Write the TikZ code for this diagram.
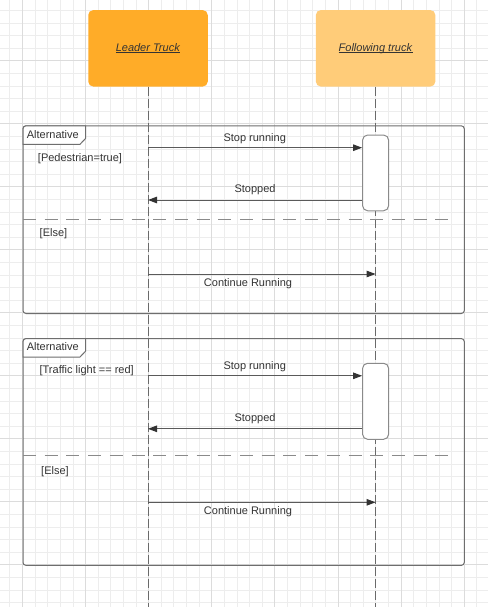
\documentclass[tikz,border=0pt]{standalone}
\usepackage{fontspec}
\setmainfont{Liberation Sans}
\usetikzlibrary{arrows.meta}
\definecolor{leaderc}{HTML}{FFAC28}
\definecolor{followc}{HTML}{FFCC79}
\definecolor{gridminor}{HTML}{EDEDED}
\definecolor{gridmajor}{HTML}{DCDCDC}
\definecolor{ink}{HTML}{333333}
\definecolor{framec}{HTML}{6E6E6E}
\definecolor{lifec}{HTML}{6A6A6A}
\definecolor{sepc}{HTML}{8A8A8A}
\definecolor{msgc}{HTML}{5A5A5A}
\definecolor{actc}{HTML}{8A8A8A}
\newcommand\myul[1]{\setbox0\hbox{#1}\rlap{\rule[-1.6pt]{\wd0}{0.7pt}}\box0}
\begin{document}
\begin{tikzpicture}[x=1pt,y=-1pt,
  font=\fontsize{11}{13}\selectfont,
  every node/.style={text=ink},
  grminor/.style={draw=gridminor,line width=0.9pt},
  grmajor/.style={draw=gridmajor,line width=0.9pt},
  actor/.style={rounded corners=5pt, minimum width=119.5pt, minimum height=76.5pt, inner sep=0pt},
  lifeline/.style={draw=lifec, line width=1pt, dash pattern=on 9pt off 3pt},
  frame/.style={draw=framec, line width=1pt, rounded corners=3pt},
  sepline/.style={draw=sepc, line width=1pt, dash pattern=on 13pt off 8.7pt},
  msg/.style={draw=msgc, line width=1pt, -{Triangle[length=9pt,width=6.5pt,color=ink]}},
  actbox/.style={draw=actc, fill=white, rounded corners=5pt, line width=1pt, minimum width=26pt, inner sep=0pt},
  lbl/.style={inner sep=0pt, anchor=center},
]
\useasboundingbox (0,0) rectangle (488,607);
\fill[white] (0,0) rectangle (488,607);
% grid
\foreach \k in {-1,...,36} {\draw[grminor] ({22.5+12.62*\k},0) -- ({22.5+12.62*\k},607);}
\foreach \k in {-4,...,43} {\draw[grminor] (0,{60.8+12.6*\k}) -- (488,{60.8+12.6*\k});}
\foreach \k in {0,5,...,35} {\draw[grmajor] ({22.5+12.62*\k},0) -- ({22.5+12.62*\k},607);}
\foreach \k in {0,5,...,40} {\draw[grmajor] (0,{60.8+12.6*\k}) -- (488,{60.8+12.6*\k});}

% actors
\node[actor, fill=leaderc] (leader) at (148,48.3) {\myul{\textit{Leader Truck}}};
\node[actor, fill=followc] (follow) at (375.6,48.3) {\myul{\textit{Following truck}}};
\coordinate (leadend) at (148,607);
\coordinate (followend) at (375.6,607);
\draw[lifeline] (leader.south) -- (leadend);
\draw[lifeline] (follow.south) -- (followend);

% frame 1
\draw[frame] (23,125.8) rectangle (464.3,313.5);
\draw[framec, line width=1pt, fill=white] (23,144.3) [rounded corners=3pt] -- (23,125.8) [sharp corners] -- (85.7,125.8) -- (85.7,138.3) -- (80,144.3) -- cycle;
\node[lbl] (tab1) at (52.8,134.2) {Alternative};
\node[lbl] (cond1) at (80,158.5) {[Pedestrian=true]};
\coordinate (sep1a) at (23,219.5);
\coordinate (sep1b) at (456,219.5);
\draw[sepline] (sep1a) -- (sep1b);
\node[lbl] (else1) at (53.5,234) {[Else]};
\node[actbox, minimum height=75.7pt] (act1) at (375.6,172.9) {};
\coordinate (m1) at (148,147.7);
\draw[msg] (m1) -- (m1 -| act1.west);
\node[lbl] (t1) at (254.7,138.3) {Stop running};
\coordinate (m2) at (148,200);
\draw[msg] (m2 -| act1.west) -- (m2);
\node[lbl] (t2) at (255,189.5) {Stopped};
\coordinate (m3) at (148,274);
\draw[msg] (m3) -- (m3 -| follow);
\node[lbl] (t3) at (248,283.5) {Continue Running};

% frame 2
\draw[frame] (23,338.6) rectangle (464.3,565.4);
\draw[framec, line width=1pt, fill=white] (23,357) [rounded corners=3pt] -- (23,338.6) [sharp corners] -- (85.7,338.6) -- (85.7,351) -- (80,357) -- cycle;
\node[lbl] (tab2) at (52.8,347) {Alternative};
\node[lbl] (cond2) at (86.7,371) {[Traffic light == red]};
\coordinate (sep2a) at (23,455.8);
\coordinate (sep2b) at (456,455.8);
\draw[sepline] (sep2a) -- (sep2b);
\node[lbl] (else2) at (55,471.5) {[Else]};
\node[actbox, minimum height=76pt] (act2) at (375.6,401.3) {};
\coordinate (m4) at (148,375.8);
\draw[msg] (m4) -- (m4 -| act2.west);
\node[lbl] (t4) at (254.7,366.3) {Stop running};
\coordinate (m5) at (148,428.8);
\draw[msg] (m5 -| act2.west) -- (m5);
\node[lbl] (t5) at (255,418.5) {Stopped};
\coordinate (m6) at (148,502.3);
\draw[msg] (m6) -- (m6 -| follow);
\node[lbl] (t6) at (248,511.3) {Continue Running};
\end{tikzpicture}
\end{document}
